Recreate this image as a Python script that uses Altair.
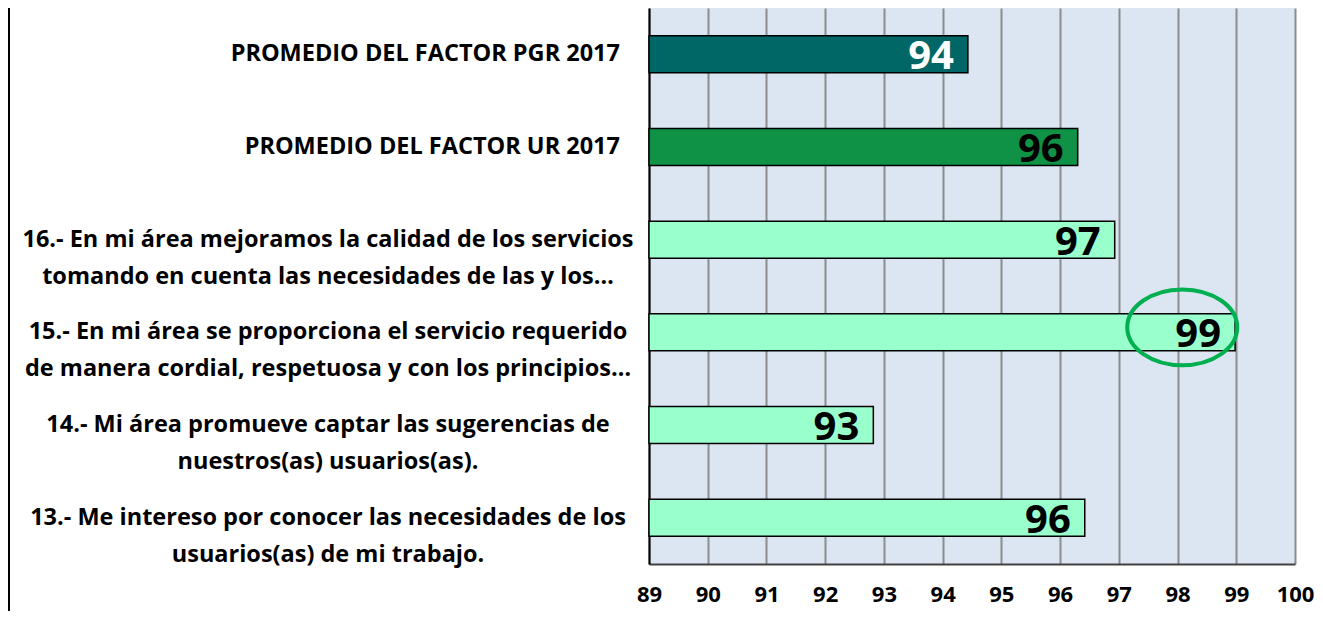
import altair as alt
import pandas as pd

labels = [
    "PROMEDIO DEL FACTOR PGR 2017",
    "PROMEDIO DEL FACTOR UR 2017",
    "16.- En mi área mejoramos la calidad de los servicios|tomando en cuenta las necesidades de las y los…",
    "15.- En mi área se proporciona el servicio requerido|de manera cordial, respetuosa y con los principios…",
    "14.- Mi área promueve captar las sugerencias de|nuestros(as) usuarios(as).",
    "13.- Me intereso por conocer las necesidades de los|usuarios(as) de mi trabajo.",
]
values = [94.43, 96.30, 96.93, 98.98, 92.82, 96.42]
axis_min = 89
axis_max = 100
tick_values = [89, 90, 91, 92, 93, 94, 95, 96, 97, 98, 99, 100]
highlight_label = [labels[3]]
highlight_value = [98.08]

df = pd.DataFrame({"label": labels, "value": values})
hl = pd.DataFrame({"label": highlight_label, "value": highlight_value})

fill_range = ["#006666", "#0F9146", "#99FFCC", "#99FFCC", "#99FFCC", "#99FFCC"]
text_range = ["#FFFFFF", "#000000", "#000000", "#000000", "#000000", "#000000"]
FONT = "Open Sans"

yenc = alt.Y(
    "label:N",
    sort=labels,
    scale=alt.Scale(paddingInner=0.6, paddingOuter=0.3),
    axis=alt.Axis(labels=False, ticks=False, title=None, domain=True,
                  domainColor="#000000", domainWidth=2, grid=False),
)
xenc = alt.X(
    "value:Q",
    scale=alt.Scale(domain=[axis_min, axis_max], nice=False, zero=False),
    axis=alt.Axis(values=tick_values, format="d", title=None, ticks=False,
                  grid=True, gridColor="#8C8C8C", gridWidth=2,
                  domainColor="#404040", domainWidth=2, labelFlush=False,
                  labelFont=FONT, labelFontWeight="bold", labelFontSize=22,
                  labelColor="#000000", labelPadding=30, labelBaseline="middle"),
)

base = alt.Chart(df)

bars = base.mark_bar(stroke="#000000", strokeWidth=1.5).encode(
    x=xenc, x2=alt.datum(axis_min), y=yenc,
    color=alt.Color("label:N", scale=alt.Scale(domain=labels, range=fill_range), legend=None),
)

vals = base.mark_text(align="right", baseline="middle", dx=-14, dy=3,
                      font=FONT, fontSize=40, fontWeight="bold").encode(
    x="value:Q", y=alt.Y("label:N", sort=labels),
    text=alt.Text("value:Q", format=".0f"),
    fill=alt.Fill("label:N", scale=alt.Scale(domain=labels, range=text_range), legend=None),
)

single = base.transform_filter("indexof(datum.label, '|') < 0").mark_text(
    align="right", baseline="middle", font=FONT, fontSize=23.5, fontWeight="bold",
    color="#000000").encode(
    x=alt.value(-29), y=alt.Y("label:N", sort=labels), text="label:N")

multi = base.transform_filter("indexof(datum.label, '|') >= 0").mark_text(
    align="center", baseline="middle", font=FONT, fontSize=23.5, fontWeight="bold",
    lineBreak="|", lineHeight=37, color="#000000").encode(
    x=alt.value(-321), y=alt.Y("label:N", sort=labels), text="label:N")

ellipse_path = ("M -1 0 C -1 -0.381 -0.5523 -0.69 0 -0.69 "
                "C 0.5523 -0.69 1 -0.381 1 0 "
                "C 1 0.381 0.5523 0.69 0 0.69 "
                "C -0.5523 0.69 -1 0.381 -1 0 Z")
ellipse = alt.Chart(hl).mark_point(shape=ellipse_path, size=12100, filled=False,
                                   stroke="#00B050", strokeWidth=4, opacity=1,
                                   yOffset=-5).encode(
    x="value:Q", y=alt.Y("label:N", sort=labels))

border = alt.Chart(df).mark_rule(color="#000000", strokeWidth=1.5).encode(
    x=alt.value(-640), y=alt.value(-10), y2=alt.value(700))

chart = alt.layer(bars, vals, single, multi, ellipse, border).resolve_scale(
    color="independent", fill="independent"
).properties(
    width=646, height=556,
    background="#FFFFFF",
    autosize=alt.AutoSizeParams(type="none"),
    padding={"left": 641, "top": 0, "right": 20, "bottom": 47},
).configure_view(fill="#DCE6F2", stroke=None)

chart.save("out.html", embed_options={"renderer": "svg", "actions": False})
